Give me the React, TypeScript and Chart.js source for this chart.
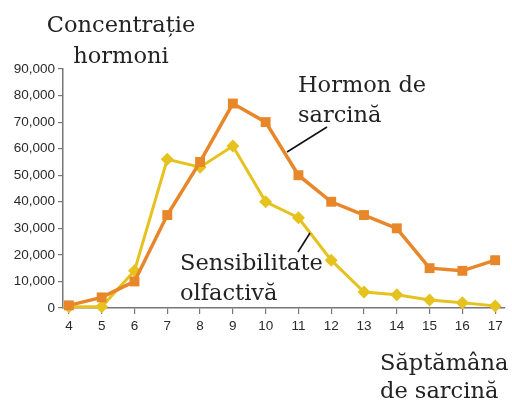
import React, { useEffect, useRef } from "react";
import { Chart, registerables } from "chart.js";

Chart.register(...registerables);

const weeks = [4, 5, 6, 7, 8, 9, 10, 11, 12, 13, 14, 15, 16, 17];
const hormoneValues = [1000, 4000, 10000, 35000, 55000, 77000, 70000, 50000, 40000, 35000, 30000, 15000, 14000, 18000];
const smellValues = [500, 500, 14000, 56000, 53000, 61000, 40000, 34000, 18000, 6000, 5000, 3000, 2000, 800];
const yTicks = [0, 10000, 20000, 30000, 40000, 50000, 60000, 70000, 80000, 90000];

const ORANGE = "#E8862A";
const YELLOW = "#E6C21F";
const SERIF = "'DejaVu Serif', serif";
const FS = 22.5;

function Label(props: { x: number; baseline: number; lines: string[]; lh: number; align?: "left" | "center" }) {
  const { x, baseline, lines, lh, align } = props;
  const top = baseline - ((lh - 1.164 * FS) / 2 + 0.928 * FS);
  const style: React.CSSProperties = {
    position: "absolute",
    top,
    fontFamily: SERIF,
    fontSize: FS,
    lineHeight: lh + "px",
    color: "#222",
    whiteSpace: "nowrap",
    textAlign: align || "left",
  };
  if (align === "center") {
    style.left = x - 100;
    style.width = 200;
  } else {
    style.left = x;
  }
  return (
    <div style={style}>
      {lines.map((l, i) => (
        <div key={i}>{l}</div>
      ))}
    </div>
  );
}

export default function App() {
  const ref = useRef<HTMLCanvasElement>(null);
  useEffect(() => {
    document.body.style.margin = "0";
    const ctx = ref.current!.getContext("2d")!;
    const chart = new Chart(ctx, {
      type: "line",
      data: {
        datasets: [
          {
            label: "Hormon de sarcină",
            data: weeks.map((w, i) => ({ x: w, y: hormoneValues[i] })),
            borderColor: ORANGE,
            backgroundColor: ORANGE,
            borderWidth: 3.5,
            pointStyle: "rect",
            pointRadius: 7,
            pointBorderWidth: 0,
            tension: 0,
            clip: false as any,
          },
          {
            label: "Sensibilitate olfactivă",
            data: weeks.map((w, i) => ({ x: w, y: smellValues[i] })),
            borderColor: YELLOW,
            backgroundColor: YELLOW,
            borderWidth: 3,
            pointStyle: "rectRot",
            pointRadius: 6.5,
            pointBorderWidth: 0,
            tension: 0,
            clip: false as any,
          },
        ],
      },
      options: {
        animation: false,
        responsive: false,
        layout: { padding: { top: 69, right: 4, left: 0, bottom: 0 } },
        plugins: { legend: { display: false }, tooltip: { enabled: false } },
        scales: {
          x: {
            type: "linear",
            min: 3.82,
            max: 17.3,
            afterBuildTicks: (s: any) => {
              s.ticks = weeks.map((v) => ({ value: v }));
            },
            afterFit: (s: any) => {
              s.height = 93;
            },
            grid: { drawOnChartArea: false, drawTicks: true, tickLength: 6, color: "#777", lineWidth: 1.2 },
            border: { display: true, color: "#777", width: 1.5 },
            ticks: {
              color: "#2a2a2a",
              font: { family: "'Liberation Sans', sans-serif", size: 13.5 },
              padding: 4,
              maxRotation: 0,
              autoSkip: false,
              callback: (v: any) => String(v),
            },
          },
          y: {
            type: "linear",
            min: 0,
            max: 90000,
            afterBuildTicks: (s: any) => {
              s.ticks = yTicks.map((v) => ({ value: v }));
            },
            afterFit: (s: any) => {
              s.width = 63;
            },
            grid: { drawOnChartArea: false, drawTicks: true, tickLength: 5, color: "#777", lineWidth: 1.2 },
            border: { display: true, color: "#777", width: 1.5 },
            ticks: {
              color: "#2a2a2a",
              font: { family: "'Liberation Sans', sans-serif", size: 13.5 },
              padding: 3,
              callback: (v: any) => Number(v).toLocaleString("en-US"),
            },
          },
        },
      },
    });
    return () => chart.destroy();
  }, []);

  return (
    <div style={{ position: "relative", width: 512, height: 401, background: "#fff", overflow: "hidden" }}>
      <canvas ref={ref} width={512} height={401} style={{ position: "absolute", left: 0, top: 0 }} />
      <svg width={512} height={401} style={{ position: "absolute", left: 0, top: 0, pointerEvents: "none" }}>
        <line x1={327} y1={127} x2={287} y2={152} stroke="#111" strokeWidth={1.6} />
        <line x1={310} y1={233} x2={298} y2={252} stroke="#111" strokeWidth={1.6} />
      </svg>
      <Label x={121} baseline={32} lh={31} lines={["Concentrație", "hormoni"]} align="center" />
      <Label x={298} baseline={92} lh={30} lines={["Hormon de", "sarcină"]} />
      <Label x={180} baseline={270} lh={30} lines={["Sensibilitate", "olfactivă"]} />
      <Label x={380} baseline={370} lh={28} lines={["Săptămâna", "de sarcină"]} />
    </div>
  );
}
